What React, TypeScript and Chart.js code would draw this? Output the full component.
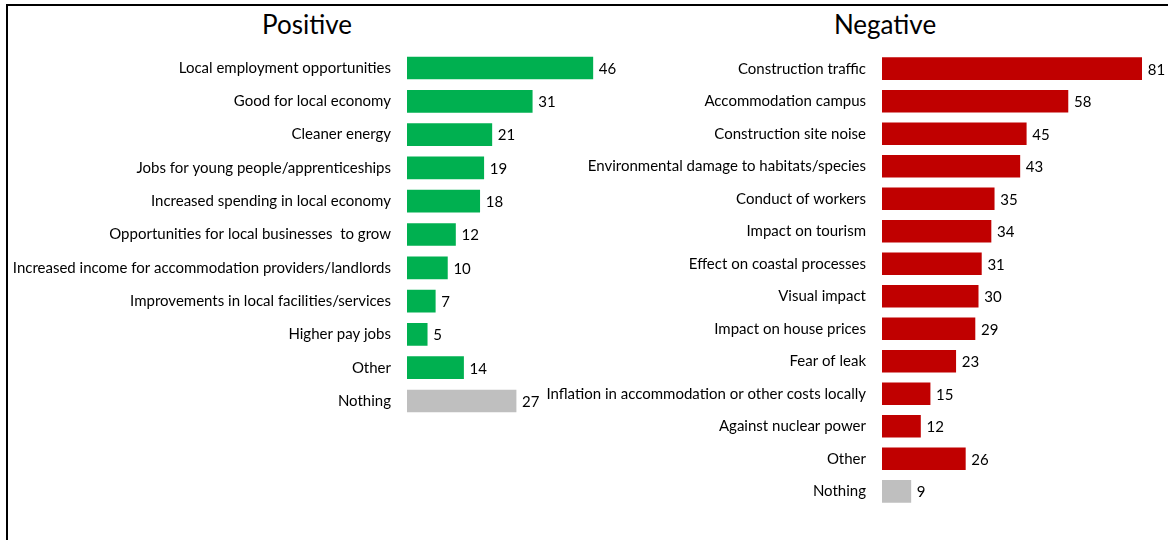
import React, { useEffect, useRef } from "react";
import { Chart, registerables } from "chart.js";

Chart.register(...registerables);

const positiveLabels = [
  "Local employment opportunities",
  "Good for local economy",
  "Cleaner energy",
  "Jobs for young people/apprenticeships",
  "Increased spending in local economy",
  "Opportunities for local businesses  to grow",
  "Increased income for accommodation providers/landlords",
  "Improvements in local facilities/services",
  "Higher pay jobs",
  "Other",
  "Nothing",
];
const positiveValues = [46, 31, 21, 19, 18, 12, 10, 7, 5, 14, 27];

const negativeLabels = [
  "Construction traffic",
  "Accommodation campus",
  "Construction site noise",
  "Environmental damage to habitats/species",
  "Conduct of workers",
  "Impact on tourism",
  "Effect on coastal processes",
  "Visual impact",
  "Impact on house prices",
  "Fear of leak",
  "Inflation in accommodation or other costs locally",
  "Against nuclear power",
  "Other",
  "Nothing",
];
const negativeValues = [81, 58, 45, 43, 35, 34, 31, 30, 29, 23, 15, 12, 26, 9];

const GREEN = "#00B050";
const RED = "#C00000";
const GREY = "#BFBFBF";
const FONT = "Lato, 'Liberation Sans', sans-serif";

const valueLabelPlugin = {
  id: "valueLabels",
  afterDatasetsDraw(chart: any) {
    const ctx = chart.ctx;
    ctx.save();
    ctx.font = `15px ${FONT}`;
    ctx.fillStyle = "#000000";
    ctx.textAlign = "left";
    ctx.textBaseline = "middle";
    chart.data.datasets.forEach((ds: any, i: number) => {
      const meta = chart.getDatasetMeta(i);
      meta.data.forEach((el: any, j: number) => {
        ctx.fillText(String(ds.data[j]), el.x + 6, el.y + 1);
      });
    });
    ctx.restore();
  },
};

function BarPanel(props: {
  labels: string[];
  values: number[];
  color: string;
  max: number;
  axisWidth: number;
  padTop: number;
  padBottom: number;
  padRight: number;
  width: number;
  left: number;
}) {
  const ref = useRef<HTMLCanvasElement | null>(null);
  useEffect(() => {
    if (!ref.current) return;
    const colors = props.labels.map((l) => (l === "Nothing" ? GREY : props.color));
    const chart = new Chart(ref.current, {
      type: "bar",
      data: {
        labels: props.labels,
        datasets: [
          {
            data: props.values,
            backgroundColor: colors,
            borderWidth: 0,
            barThickness: 22,
          },
        ],
      },
      options: {
        indexAxis: "y",
        animation: false,
        responsive: false,
        maintainAspectRatio: false,
        layout: {
          padding: { top: props.padTop, bottom: props.padBottom, left: 0, right: props.padRight },
        },
        plugins: {
          legend: { display: false },
          tooltip: { enabled: false },
          title: { display: false },
        },
        scales: {
          x: {
            display: false,
            min: 0,
            max: props.max,
            grid: { display: false },
          },
          y: {
            grid: { display: false, drawTicks: false },
            border: { display: false },
            ticks: {
              color: "#000000",
              padding: 16,
              autoSkip: false,
              font: { family: FONT, size: 15 },
            },
            afterFit: (scale: any) => {
              scale.width = props.axisWidth;
            },
          },
        },
      },
      plugins: [valueLabelPlugin],
    });
    return () => chart.destroy();
  }, []);
  return (
    <canvas
      ref={ref}
      width={props.width}
      height={540}
      style={{ position: "absolute", left: props.left, top: 0, width: props.width, height: 540 }}
    />
  );
}

export default function App() {
  return (
    <div
      style={{
        position: "absolute",
        left: 0,
        top: 0,
        width: 1168,
        height: 540,
        background: "#ffffff",
        overflow: "hidden",
      }}
    >
      <div
        style={{
          position: "absolute",
          left: 6,
          top: 4,
          width: 1162,
          height: 2,
          background: "#000",
        }}
      />
      <div
        style={{
          position: "absolute",
          left: 6,
          top: 4,
          width: 2,
          height: 536,
          background: "#000",
        }}
      />
      <div
        style={{
          position: "absolute",
          left: 207,
          top: 6,
          width: 200,
          textAlign: "center",
          fontFamily: FONT,
          fontSize: 26,
          lineHeight: "36px",
          color: "#000",
        }}
      >
        Positive
      </div>
      <div
        style={{
          position: "absolute",
          left: 785,
          top: 6,
          width: 200,
          textAlign: "center",
          fontFamily: FONT,
          fontSize: 26,
          lineHeight: "36px",
          color: "#000",
        }}
      >
        Negative
      </div>
      <BarPanel
        labels={positiveLabels}
        values={positiveValues}
        color={GREEN}
        max={50}
        axisWidth={407}
        padTop={51.35}
        padBottom={122.35}
        padRight={31}
        width={640}
        left={0}
      />
      <BarPanel
        labels={negativeLabels}
        values={negativeValues}
        color={RED}
        max={85}
        axisWidth={342}
        padTop={52.45}
        padBottom={32.45}
        padRight={13.5}
        width={628}
        left={540}
      />
    </div>
  );
}
